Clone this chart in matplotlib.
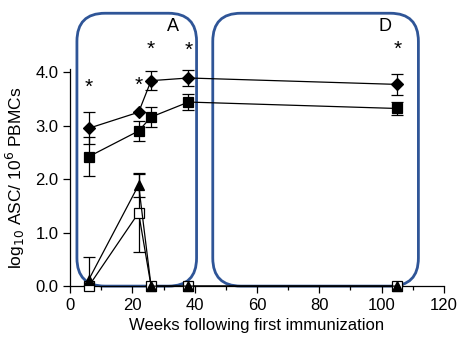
import matplotlib
matplotlib.use("Agg")
import matplotlib.pyplot as plt
from matplotlib.patches import FancyBboxPatch
from matplotlib.ticker import MultipleLocator, FormatStrFormatter

plt.rcParams['font.family'] = ['Liberation Sans', 'DejaVu Sans']

weeks = [6, 22, 26, 38, 105]
diamond = [2.95, 3.25, 3.84, 3.89, 3.77]
diamond_err = [0.30, 0.0, 0.18, 0.15, 0.20]
square = [2.42, 2.90, 3.16, 3.44, 3.32]
square_err = [0.36, 0.18, 0.19, 0.15, 0.12]
triangle = [0.12, 1.89, 0.0, 0.0, 0.0]
triangle_err = [0.43, 0.23, 0.0, 0.0, 0.0]
open_sq = [0.0, 1.37, 0.0, 0.0, 0.0]
open_sq_err = [0.0, 0.73, 0.0, 0.0, 0.0]

star_weeks = [6, 22, 26, 38, 105]
star_y = [3.72, 3.76, 4.42, 4.40, 4.42]

fig = plt.figure(figsize=(4.61, 3.37), dpi=100)
ax = fig.add_axes([0.152, 0.151, 0.811, 0.643])

series = [
    (open_sq, open_sq_err, 's', 'white', 7),
    (triangle, triangle_err, '^', 'black', 7),
    (square, square_err, 's', 'black', 7.5),
    (diamond, diamond_err, 'D', 'black', 6),
]
for vals, err, m, fc, ms in series:
    ax.errorbar(weeks, vals, yerr=err, color='black', lw=0.9, capsize=4,
                elinewidth=0.9, capthick=0.9, fmt='none')
    ax.plot(weeks, vals, color='black', lw=0.9, marker=m, mfc=fc, mec='black',
            ms=ms, mew=0.9, clip_on=False, zorder=3)

for xw, ys in zip(star_weeks, star_y):
    ax.text(xw, ys, '*', ha='center', va='center', fontsize=15, clip_on=False)

ax.text(33, 4.85, 'A', ha='center', va='center', fontsize=13)
ax.text(101, 4.85, 'D', ha='center', va='center', fontsize=13)

ax.set_xlim(0, 120)
ax.set_ylim(0, 4.05)

box_color = '#2F5597'
aspect = (4.05 / (0.643 * 337)) / (120 / (0.811 * 461))
for x0, x1 in [(2.2, 40.6), (45.8, 111.8)]:
    p = FancyBboxPatch((x0, 0.0), x1 - x0, 5.1,
                       boxstyle='round,pad=0,rounding_size=9',
                       mutation_aspect=aspect,
                       fill=False, ec=box_color, lw=2, clip_on=False, zorder=1)
    ax.add_patch(p)

ax.xaxis.set_major_locator(MultipleLocator(20))
ax.xaxis.set_minor_locator(MultipleLocator(10))
ax.yaxis.set_major_locator(MultipleLocator(1))
ax.yaxis.set_major_formatter(FormatStrFormatter('%.1f'))
ax.spines['top'].set_visible(False)
ax.spines['right'].set_visible(False)
for s in ['left', 'bottom']:
    ax.spines[s].set_linewidth(0.9)
ax.tick_params(axis='both', which='major', length=5, width=0.9, labelsize=12)
ax.tick_params(axis='x', which='minor', length=3, width=0.9)
ax.set_xlabel('Weeks following first immunization', fontsize=12, labelpad=4)
ax.set_ylabel('log$_{10}$ ASC/ 10$^6$ PBMCs', fontsize=12.5, labelpad=6)

fig.savefig('out.png', dpi=100)
